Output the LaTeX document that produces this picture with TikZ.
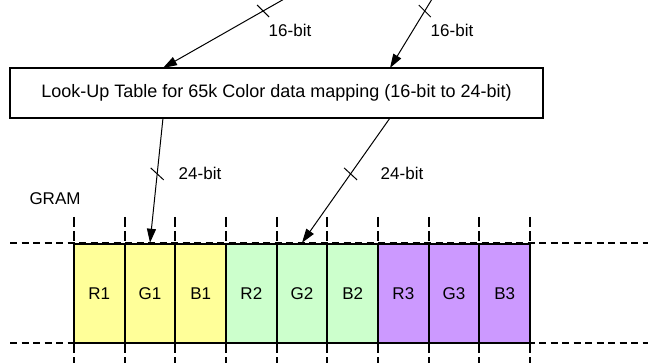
\documentclass[tikz,border=0pt]{standalone}
\usepackage{fontspec}
\setmainfont{Liberation Sans}
\usetikzlibrary{arrows.meta,calc}
\definecolor{cyel}{HTML}{FFFF99}
\definecolor{cgrn}{HTML}{CCFFCC}
\definecolor{cpur}{HTML}{CC99FF}
\tikzset{
  txt/.style={inner sep=0pt, font=\fontsize{17}{20}\selectfont},
  arr/.style={line width=1pt, -{Triangle[length=14pt,width=9pt]}},
  tickmark/.style={line width=1pt},
  dashh/.style={line width=2pt, dash pattern=on 7pt off 4.5pt},
  dashv/.style={line width=2pt, dash pattern=on 10pt off 4pt},
  cell/.style={draw, line width=2pt, minimum width=50.67pt, minimum height=99.5pt, inner sep=0pt, font=\fontsize{17}{20}\selectfont},
  lutbox/.style={draw, line width=1.1pt, minimum width=533pt, minimum height=50pt, inner sep=0pt, font=\fontsize{18}{21}\selectfont}
}
\begin{document}
\begin{tikzpicture}[x=1pt,y=-1pt]
\useasboundingbox (0,0) rectangle (648,363);
\clip (0,0) rectangle (648,363);
% look-up table
\node[lutbox] (lut) at (276.5,93) {Look-Up Table for 65k Color data mapping (16-bit to 24-bit)};
% dashed frame lines
\coordinate (hl1) at (10,243.5);
\coordinate (hr1) at (660,243.5);
\coordinate (hl2) at (10,343.5);
\coordinate (hr2) at (660,343.5);
\draw[dashh] (hl1) -- (hr1);
\draw[dashh] (hl2) -- (hr2);
\foreach \i in {0,...,9}{
  \coordinate (vt\i) at ({74+50.67*\i},217);
  \coordinate (vb\i) at ({74+50.67*\i},372);
  \draw[dashv] (vt\i) -- (vb\i);
}
% cells
\foreach \i/\lab/\col in {1/R1/cyel,2/G1/cyel,3/B1/cyel,4/R2/cgrn,5/G2/cgrn,6/B2/cgrn,7/R3/cpur,8/G3/cpur,9/B3/cpur}{
  \node[cell, fill=\col] (c\i) at ({74+50.67*(\i-0.5)},293.5) {\lab};
}
% GRAM label
\node[txt] (gram) at (55,199) {GRAM};
% upper arrows (entering from above)
\coordinate (s1) at (307,-14);
\coordinate (s2) at (440,-14);
\coordinate (e1) at (163,68);
\coordinate (e2) at (390,68);
\draw[arr] (s1) -- node[pos=0.305, coordinate] (k1) {} (e1);
\draw[arr] (s2) -- node[pos=0.305, coordinate] (k2) {} (e2);
\draw[tickmark] ($(k1)+(-6,-6)$) -- ($(k1)+(6,6)$);
\draw[tickmark] ($(k2)+(-6,-6)$) -- ($(k2)+(6,6)$);
\node[txt] (l1) at (290,30) {16-bit};
\node[txt] (l2) at (452,30) {16-bit};
% lower arrows
\coordinate (o1) at (163,118);
\coordinate (o2) at (390,118);
\draw[arr] (o1) -- node[pos=0.448, coordinate] (k3) {} (c2.north);
\draw[arr] (o2) -- node[pos=0.448, coordinate] (k4) {} (c5.north);
\draw[tickmark] ($(k3)+(-6.5,-6)$) -- ($(k3)+(6.5,6)$);
\draw[tickmark] ($(k4)+(-6.5,-6)$) -- ($(k4)+(6.5,6)$);
\node[txt] (l3) at (200,173) {24-bit};
\node[txt] (l4) at (402,173) {24-bit};
\end{tikzpicture}
\end{document}
